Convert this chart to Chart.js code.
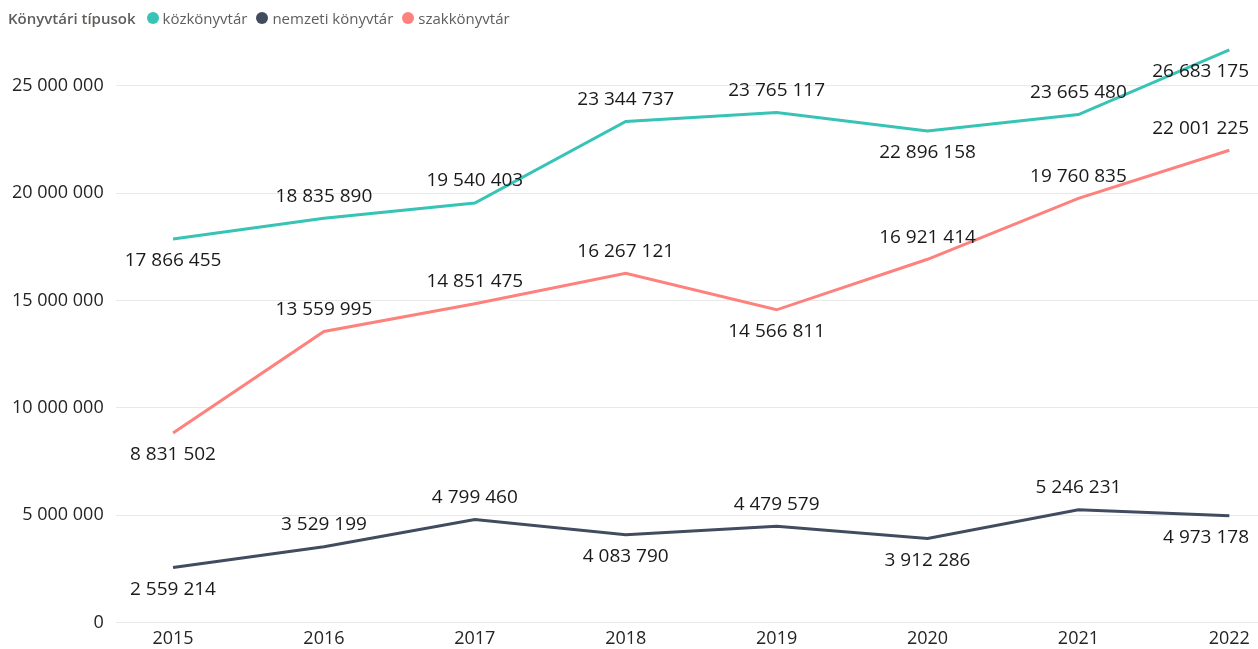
<!DOCTYPE html>
<html>
<head>
<meta charset="utf-8">
<script src="https://cdn.jsdelivr.net/npm/chart.js@4.4.1/dist/chart.umd.min.js"></script>
<style>
  html, body { margin: 0; padding: 0; background: #fff; overflow: hidden; }
  #wrap { position: relative; width: 1258px; height: 649px; overflow: hidden; }
  #legend { position: absolute; left: 8px; top: 8px; font-family: "Open Sans", sans-serif; font-size: 15px; color: #605e5c; display: flex; align-items: center; white-space: nowrap; }
  #legend .title { font-weight: 600; margin-right: 11px; }
  #legend .item { display: flex; align-items: center; margin-right: 9px; }
  #legend .dot { width: 12px; height: 12px; border-radius: 50%; margin-right: 4px; }
</style>
</head>
<body>
<div id="wrap">
  <div id="legend"></div>
  <canvas id="chart" width="1258" height="658"></canvas>
</div>
<script>
// data
var years = [2015, 2016, 2017, 2018, 2019, 2020, 2021, 2022];
var kozkonyvtar = [17866455, 18835890, 19540403, 23344737, 23765117, 22896158, 23665480, 26683175];
var nemzeti = [2559214, 3529199, 4799460, 4083790, 4479579, 3912286, 5246231, 4973178];
var szak = [8831502, 13559995, 14851475, 16267121, 14566811, 16921414, 19760835, 22001225];
var seriesNames = ["közkönyvtár", "nemzeti könyvtár", "szakkönyvtár"];
var yTicks = [0, 5000000, 10000000, 15000000, 20000000, 25000000];

// label placement: 1 = above, -1 = below
var kozPos = [-1, 1, 1, 1, 1, -1, 1, -1];
var nemPos = [-1, 1, 1, -1, 1, -1, 1, -1];
var szakPos = [-1, 1, 1, 1, -1, 1, 1, 1];

var colors = ["#37c3b5", "#414c5f", "#fd817d"];

function fmt(v) {
  return String(v).replace(/\B(?=(\d{3})+(?!\d))/g, " ");
}

function pts(vals) {
  return years.map(function(y, i) { return {x: y, y: vals[i]}; });
}

// legend
var lg = document.getElementById("legend");
var html = '<span class="title">Könyvtári típusok</span>';
seriesNames.forEach(function(n, i) {
  html += '<span class="item"><span class="dot" style="background:' + colors[i] + '"></span>' + n + '</span>';
});
lg.innerHTML = html;

var labelPlugin = {
  id: "pointLabels",
  afterDatasetsDraw: function(chart) {
    var ctx = chart.ctx;
    ctx.save();
    ctx.font = "19px 'Open Sans', sans-serif";
    ctx.fillStyle = "#1a1a1a";
    ctx.textBaseline = "middle";
    ctx.textAlign = "center";
    var area = chart.chartArea;
    chart.data.datasets.forEach(function(ds, di) {
      var meta = chart.getDatasetMeta(di);
      meta.data.forEach(function(el, i) {
        var txt = fmt(ds.data[i].y);
        var w = ctx.measureText(txt).width;
        var x = el.x;
        if (x + w / 2 > area.right - 9) x = area.right - 9 - w / 2;
        var y = el.y - ds.labelPos[i] * 22;
        ctx.fillText(txt, x, y);
      });
    });
    ctx.restore();
  }
};

new Chart(document.getElementById("chart"), {
  type: "line",
  data: {
    datasets: [
      { label: seriesNames[0], data: pts(kozkonyvtar), borderColor: colors[0], labelPos: kozPos },
      { label: seriesNames[1], data: pts(nemzeti), borderColor: colors[1], labelPos: nemPos },
      { label: seriesNames[2], data: pts(szak), borderColor: colors[2], labelPos: szakPos }
    ]
  },
  options: {
    responsive: false,
    animation: false,
    events: [],
    elements: {
      line: { borderWidth: 3, tension: 0, fill: false },
      point: { radius: 0 }
    },
    layout: { padding: { top: 43, left: 0, right: 0, bottom: 2 } },
    plugins: { legend: { display: false }, tooltip: { enabled: false } },
    scales: {
      x: {
        type: "linear",
        min: 2014.62,
        max: 2022.19,
        afterBuildTicks: function(scale) {
          scale.ticks = years.map(function(y) { return {value: y}; });
        },
        grid: { display: false, drawTicks: false },
        border: { display: false },
        ticks: {
          autoSkip: false,
          maxRotation: 0,
          padding: 6,
          color: "#252423",
          font: { family: "'Open Sans', sans-serif", size: 18 },
          callback: function(v) { return String(v); }
        }
      },
      y: {
        min: 0,
        max: 27000000,
        afterBuildTicks: function(scale) {
          scale.ticks = yTicks.map(function(v) { return {value: v}; });
        },
        grid: { color: "#e9e9e9", lineWidth: 1, drawTicks: false },
        border: { display: false },
        ticks: {
          padding: 12,
          color: "#252423",
          font: { family: "'Open Sans', sans-serif", size: 18 },
          callback: function(v) { return fmt(v); }
        }
      }
    }
  },
  plugins: [labelPlugin]
});
</script>
</body>
</html>
